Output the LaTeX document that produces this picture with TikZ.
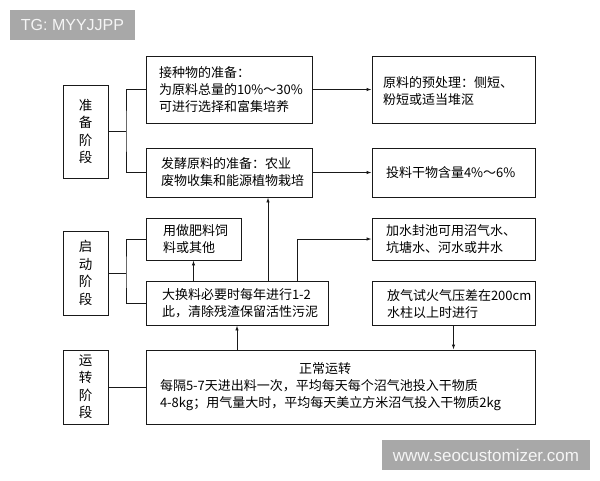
\documentclass[tikz,border=0pt]{standalone}
\usepackage{fontspec}
\setmainfont{Liberation Sans}
\newfontfamily\cjk{Noto Sans CJK SC}
\usetikzlibrary{arrows.meta}
\definecolor{wmgray}{HTML}{A8A8A8}
\begin{document}
\begin{tikzpicture}[x=1pt,y=-1pt,
  box/.style={draw=black!90, line width=0.9pt, inner ysep=0pt, align=left,
    font={\cjk\fontsize{13}{17}\selectfont}},
  stagebox/.style={draw=black!90, line width=0.9pt, inner sep=0pt, align=center,
    minimum width=45pt, font={\cjk\fontsize{13.5}{17.5}\selectfont}},
  conn/.style={draw=black!90, line width=0.9pt},
  arr/.style={conn, -{Latex[length=5pt,width=3.5pt]}},
  wm/.style={fill=wmgray, text=white!96!black, inner sep=0pt, minimum height=30pt}
]
\fill[white] (0,0) rectangle (600,480);
\useasboundingbox (0,0) rectangle (600,480);

% watermarks
\node[wm, minimum width=125pt, font=\fontsize{16}{16}\selectfont] (tg) at (72.5,25) {TG: MYYJJPP};
\node[wm, minimum width=208pt, font=\fontsize{17}{17}\selectfont] (www) at (486,455) {www.seocustomizer.com};

% stage boxes
\node[stagebox, minimum height=93pt] (zb) at (85.5,131.5) {准\\备\\阶\\段};
\node[stagebox, minimum height=84pt] (qd) at (85.5,273) {启\\动\\阶\\段};
\node[stagebox, minimum height=74pt] (yj) at (85.5,387) {运\\转\\阶\\段};

% content boxes
\node[box, inner xsep=13pt, text width=140pt, minimum height=67pt] (jz) at (229,89.5)
  {接种物的准备：\\\mbox{为原料总量的10\%～30\%}\\可进行选择和富集培养};
\node[box, inner xsep=11pt, text width=141pt, minimum height=67pt] (yc) at (453.5,89.5)
  {\rule{0pt}{14pt}原料的预处理：侧短、\\粉短或适当堆沤};
\node[box, inner xsep=15pt, text width=136pt, minimum height=49pt] (fj) at (229,172.5)
  {发酵原料的准备：农业\\废物收集和能源植物栽培};
\node[box, inner xsep=14pt, text width=135pt, minimum height=49pt] (tl) at (453.5,172.5)
  {投料干物含量4\%～6\%};
\node[box, inner xsep=17pt, text width=61pt, minimum height=42pt] (yz) at (193.5,239)
  {用做肥料饲\\料或其他};
\node[box, inner xsep=16pt, text width=150pt, minimum height=44pt] (dh) at (237,303)
  {\mbox{大换料必要时每年进行1-2}\\\mbox{此，清除残渣保留活性污泥}};
\node[box, inner xsep=14pt, text width=135pt, minimum height=42pt] (js) at (453.5,239)
  {加水封池可用沼气水、\\坑塘水、河水或井水};
\node[box, inner xsep=15pt, text width=133pt, minimum height=44pt] (fq) at (453.5,303)
  {\rule{0pt}{14pt}\mbox{放气试火气压差在200cm}\\水柱以上时进行};
\node[box, inner xsep=14pt, text width=361pt, minimum height=74pt] (zc) at (340.5,387)
  {\hspace*{139pt}正常运转\\\mbox{每隔5-7天进出料一次，平均每天每个沼气池投入干物质}\\\mbox{4-8kg；用气量大时，平均每天美立方米沼气投入干物质2kg}};

% helper coordinates
\coordinate (b1) at (126,131.5);
\coordinate (b2) at (126,273);
\coordinate (u1) at (268,0);
\coordinate (u2) at (297,0);

% connectors
\draw[conn] (zb.east) -- (b1);
\draw[conn] (jz.west) -| (b1) |- (fj.west);
\draw[arr] (jz.east) -- (yc.west);
\draw[arr] (fj.east) -- (tl.west);

\draw[conn] (qd.east) -- (b2);
\draw[conn] (yz.west) -| (b2) |- (dh.west);
\draw[arr] (dh.north -| yz.south) -- (yz.south);
\draw[arr] (dh.north -| u1) -- (fj.south -| u1);
\draw[arr] (dh.north -| u2) |- (js.west);
\draw[arr] (zc.north -| dh.south) -- (dh.south);
\draw[arr] (fq.south) -- (fq.south |- zc.north);
\draw[conn] (yj.east) -- (zc.west);
\end{tikzpicture}
\end{document}
